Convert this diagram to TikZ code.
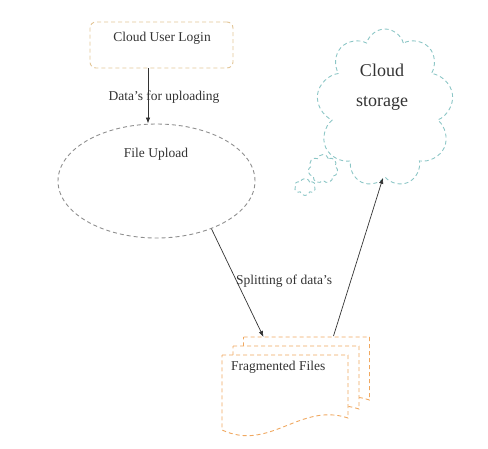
\documentclass[tikz,border=0pt]{standalone}
\usepackage{fontspec}
\setmainfont{Liberation Serif}
\usetikzlibrary{shapes.geometric,shapes.symbols,arrows.meta,calc}
\definecolor{loginc}{HTML}{E2C596}
\definecolor{docc}{HTML}{F0A860}
\definecolor{cloudc}{HTML}{8CC6C6}
\definecolor{ellc}{HTML}{8F8F8F}
\definecolor{arrc}{HTML}{333333}
\tikzset{
  txt/.style={font=\fontsize{13.5}{16}\selectfont, text=black!80, inner sep=0pt},
  bigtxt/.style={font=\fontsize{18}{22}\selectfont, text=black!80, inner sep=0pt},
  dsh/.style={dash pattern=on 4pt off 3pt, line width=0.9pt},
  arr/.style={draw=arrc, line width=0.7pt, -{Latex[length=6pt,width=4.5pt]}},
  docbox/.style={anchor=north west, minimum width=126pt, minimum height=75pt, inner sep=0pt},
  docshape/.pic={\draw[dsh, draw=docc, fill=white] (0,0) -- (126,0) -- (126,63) .. controls (78,47) and (48,97) .. (0,75) -- cycle;},
  cloudshape/.style={cloud, draw=cloudc, dsh, cloud ignores aspect, inner sep=0pt}
}
\begin{document}
\begin{tikzpicture}[x=1pt,y=-1pt]
\useasboundingbox (0,0) rectangle (488,448);
% login box
\node[draw=loginc, dsh, rounded corners=6pt, minimum width=143pt, minimum height=46pt, inner sep=0pt] (login) at (161.5,45) {};
\node[txt] (logintxt) at (162,38) {Cloud User Login};
% ellipse
\node[ellipse, draw=ellc, dsh, minimum width=197pt, minimum height=114pt, inner sep=0pt] (upload) at (156.5,181) {};
\node[txt] (uploadtxt) at (156,154) {File Upload};
% documents
\node[docbox] (fragback) at (243.5,337) {};
\node[docbox] (fragmid) at (233,346) {};
\node[docbox] (fragfront) at (222,355) {};
\pic at (fragback.north west) {docshape};
\pic at (fragmid.north west) {docshape};
\pic at (fragfront.north west) {docshape};
\node[txt, anchor=west] (fragtxt) at (231,367) {Fragmented Files};
% cloud
\node[cloudshape, cloud puffs=9, minimum width=137pt, minimum height=158pt] (cloud) at (385,108) {};
\node[cloudshape, cloud puffs=7, minimum width=30pt, minimum height=29pt] (puff1) at (323,169) {};
\node[cloudshape, cloud puffs=6, minimum width=21pt, minimum height=17pt] (puff2) at (305,187) {};
\node[bigtxt] (cloudtxt1) at (382,70) {Cloud};
\node[bigtxt] (cloudtxt2) at (382,103) {storage};
% arrows
\coordinate (a1) at ($(login.south)+(-13.5,0)$);
\draw[arr] (a1) -- (a1 |- upload.north);
\node[txt] (lab1) at (164,97) {Data's for uploading};
\draw[arr] (upload.-41) -- ($(fragback.north west)+(20,0)$);
\node[txt] (lab2) at (284,281) {Splitting of data's};
\draw[arr] ($(fragback.north west)+(90,-1)$) -- ($(cloud.south)+(-2,0)$);
\end{tikzpicture}
\end{document}
